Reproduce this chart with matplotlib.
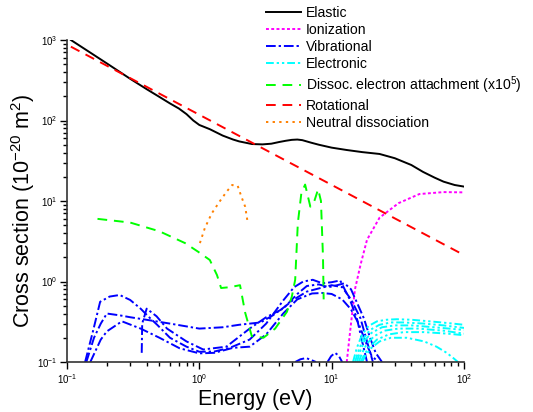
"""
Electron scattering cross sections vs. energy, log-log plot.
"""

import matplotlib
matplotlib.use("Agg")
import matplotlib.pyplot as plt

plt.rcParams["font.family"] = ["Liberation Sans", "DejaVu Sans"]
plt.rcParams["mathtext.fontset"] = "custom"
plt.rcParams["mathtext.rm"] = "Liberation Sans"
plt.rcParams["mathtext.it"] = "Liberation Sans:italic"
plt.rcParams["mathtext.bf"] = "Liberation Sans:bold"

# --- cross sections in 1e-20 m^2, energies in eV ---
elastic_energy = [0.107, 0.15, 0.2, 0.3, 0.4, 0.5, 0.6, 0.7, 0.8, 0.9, 1.0, 1.2,
                  1.5, 1.8, 2.0, 2.5, 3.0, 3.5, 4.0, 4.5, 5.0, 5.5, 6.0, 7.0,
                  8.0, 10, 13, 17, 23, 30, 40, 49, 60, 70, 85, 100]
elastic_sigma = [1000, 697, 512, 330, 245, 196, 163, 141, 120, 100, 88, 78,
                 65, 58, 55, 51, 50.5, 51.5, 54, 56, 57.5, 58, 57, 53,
                 50, 46, 43, 40.5, 38.4, 34, 28, 23, 19.5, 17.4, 15.8, 15.1]

ionization_energy = [13.0, 14.0, 15.0, 16.5, 18.5, 23, 32, 46, 70, 100]
ionization_sigma = [0.1, 0.3, 0.8, 1.6, 3.3, 6.2, 9.4, 12.2, 12.9, 12.8]

rotational_energy = [0.107, 100]
rotational_sigma = [826, 2.13]

dea_energy = [0.17, 0.3, 0.5, 0.78, 0.98, 1.2, 1.36, 1.46, 1.7, 2.03, 2.22,
              2.49, 3.05, 3.74, 4.59, 5.0, 5.3, 5.55, 5.9, 6.3, 6.9, 7.4,
              7.9, 8.3, 8.6, 8.7]
dea_sigma = [6.0, 5.4, 4.2, 3.0, 2.34, 1.85, 1.2, 0.83, 0.85, 0.9, 0.41,
             0.21, 0.2, 0.26, 0.42, 0.65, 1.05, 5.3, 12.5, 16, 8.5, 10,
             14, 10, 2.0, 0.6]

neutral_energy = [1.01, 1.10, 1.24, 1.42, 1.61, 1.77, 1.95, 2.08, 2.22, 2.32]
neutral_sigma = [3.0, 4.6, 7.0, 9.8, 13.1, 15.8, 15.4, 11.3, 8.5, 5.4]

vib1_energy = [0.137, 0.158, 0.178, 0.21, 0.25, 0.30, 0.36, 0.41, 0.48, 0.6,
               0.8, 1.0, 1.3, 1.7, 2.4, 3.2, 4.3, 5.2, 6.1, 7.2, 8.5, 10,
               11.6, 13.7, 15.5, 17.0, 18.5]
vib1_sigma = [0.1, 0.25, 0.56, 0.65, 0.68, 0.59, 0.46, 0.37, 0.29, 0.2,
              0.155, 0.134, 0.135, 0.15, 0.19, 0.3, 0.58, 0.85, 1.0, 1.05,
              0.95, 0.98, 1.03, 0.6, 0.35, 0.18, 0.1]
vib2_energy = [0.14, 0.16, 0.18, 0.2, 0.25, 0.3, 0.42, 0.6, 1.0, 1.5, 2.0,
               2.9, 3.6, 4.3, 5.2, 6.5, 8, 10, 12, 14, 16.5, 18.5, 20.5]
vib2_sigma = [0.1, 0.2, 0.3, 0.4, 0.38, 0.36, 0.33, 0.3, 0.26, 0.27, 0.29,
              0.31, 0.38, 0.47, 0.6, 0.75, 0.82, 0.9, 0.85, 0.6, 0.35, 0.18, 0.1]
vib3_energy = [0.15, 0.18, 0.2, 0.26, 0.36, 0.5, 0.71, 1.0, 1.3, 1.8, 2.4,
               3.2, 4.3, 5.5, 7.1, 8.5, 10, 12, 14, 16, 18, 20, 22.5]
vib3_sigma = [0.1, 0.19, 0.24, 0.32, 0.26, 0.2, 0.148, 0.128, 0.13, 0.15,
              0.155, 0.22, 0.4, 0.6, 0.71, 0.72, 0.7, 0.6, 0.45, 0.3, 0.18,
              0.12, 0.1]
vib4_energy = [0.367, 0.37, 0.4, 0.475, 0.57, 0.8, 1.07, 1.6, 2.4, 3.2, 4.3,
               5.5, 6.5, 8, 9.5, 11, 12.5, 14, 15.5, 17.5, 19.5, 21.5, 24]
vib4_sigma = [0.13, 0.3, 0.46, 0.37, 0.26, 0.18, 0.143, 0.155, 0.26, 0.36,
              0.46, 0.7, 0.88, 0.92, 0.85, 0.9, 0.95, 0.8, 0.55, 0.35, 0.2,
              0.13, 0.1]
vib5_energy = [5.3, 5.8, 6.4, 7.0, 7.6]
vib5_sigma = [0.1, 0.108, 0.112, 0.106, 0.1]
vib6_energy = [9.3, 9.9, 10.6, 11.3, 12.0]
vib6_sigma = [0.1, 0.118, 0.13, 0.12, 0.1]

elec1_energy = [14.5, 15.5, 17, 19, 22, 26, 31, 40, 55, 75, 100]
elec1_sigma = [0.1, 0.15, 0.22, 0.28, 0.32, 0.335, 0.34, 0.335, 0.32, 0.305, 0.29]
elec2_energy = [15, 16, 17.5, 19.5, 23, 28, 35, 50, 70, 100]
elec2_sigma = [0.1, 0.14, 0.2, 0.25, 0.29, 0.31, 0.31, 0.3, 0.285, 0.265]
elec3_energy = [15.5, 16.5, 18, 20, 24, 30, 40, 60, 100]
elec3_sigma = [0.1, 0.14, 0.19, 0.23, 0.27, 0.285, 0.285, 0.27, 0.25]
elec4_energy = [16, 17, 18.5, 21, 25, 32, 45, 70, 100]
elec4_sigma = [0.1, 0.13, 0.17, 0.21, 0.245, 0.26, 0.26, 0.245, 0.225]
elec5_energy = [16.5, 17.5, 19, 22, 27, 35, 50, 75, 100]
elec5_sigma = [0.1, 0.12, 0.15, 0.19, 0.22, 0.235, 0.235, 0.225, 0.215]
elec6_energy = [17, 18, 20, 23, 28, 37, 50, 62, 74, 83, 90]
elec6_sigma = [0.1, 0.12, 0.15, 0.18, 0.2, 0.2, 0.18, 0.155, 0.13, 0.112, 0.1]

vib_sets = [(vib1_energy, vib1_sigma), (vib2_energy, vib2_sigma),
            (vib3_energy, vib3_sigma), (vib4_energy, vib4_sigma),
            (vib5_energy, vib5_sigma), (vib6_energy, vib6_sigma)]
elec_sets = [(elec1_energy, elec1_sigma), (elec2_energy, elec2_sigma),
             (elec3_energy, elec3_sigma), (elec4_energy, elec4_sigma),
             (elec5_energy, elec5_sigma), (elec6_energy, elec6_sigma)]

LW = 1.4
fig = plt.figure(figsize=(5.33, 4.12), dpi=100)
ax = fig.add_axes([67 / 533, 1 - 362 / 412, 397 / 533, 322 / 412])

ax.plot(elastic_energy, elastic_sigma, color="black", lw=LW, label="Elastic")
ax.plot(ionization_energy, ionization_sigma, color="#ff00ff", lw=LW,
        dashes=(1.5, 1.2), label="Ionization")
for i, (e, s) in enumerate(vib_sets):
    ax.plot(e, s, color="#0000ff", lw=LW, dashes=(5, 1.5, 1.2, 1.5),
            label="Vibrational" if i == 0 else None)
for i, (e, s) in enumerate(elec_sets):
    ax.plot(e, s, color="#00ffff", lw=LW, dashes=(4, 1.5, 1.2, 1.5, 1.2, 1.5),
            label="Electronic" if i == 0 else None)
ax.plot(dea_energy, dea_sigma, color="#00ff00", lw=LW, dashes=(5, 3.5),
        label="Dissoc. electron attachment (x10$^5$)")
ax.plot(rotational_energy, rotational_sigma, color="#ff0000", lw=LW,
        dashes=(5, 3.5), label="Rotational")
ax.plot(neutral_energy, neutral_sigma, color="#ff8000", lw=LW,
        dashes=(1.2, 2.2), label="Neutral dissociation")

ax.set_xscale("log")
ax.set_yscale("log")
ax.set_xlim(0.1, 100)
ax.set_ylim(0.1, 1000)

for side in ("top", "right"):
    ax.spines[side].set_visible(False)
for side in ("left", "bottom"):
    ax.spines[side].set_linewidth(1.2)
    ax.spines[side].set_color("#333333")

ax.tick_params(which="major", direction="out", length=5, width=1,
               labelsize=7, pad=2)
ax.tick_params(which="minor", direction="out", length=3, width=1)

ax.set_xlabel("Energy (eV)", fontsize=15.5)
ax.set_ylabel("Cross section (10$^{-20}$ m$^2$)", fontsize=15.5)
ax.xaxis.set_label_coords(0.474, -0.085)
ax.yaxis.set_label_coords(-0.075, 0.47)

fig.legend(loc="upper left", bbox_to_anchor=(266 / 533, 1 - 6 / 412),
           frameon=False, fontsize=10.1, handlelength=2.5, handletextpad=0.35,
           labelspacing=0.22, borderpad=0, borderaxespad=0)

fig.savefig("out.png", dpi=100)
